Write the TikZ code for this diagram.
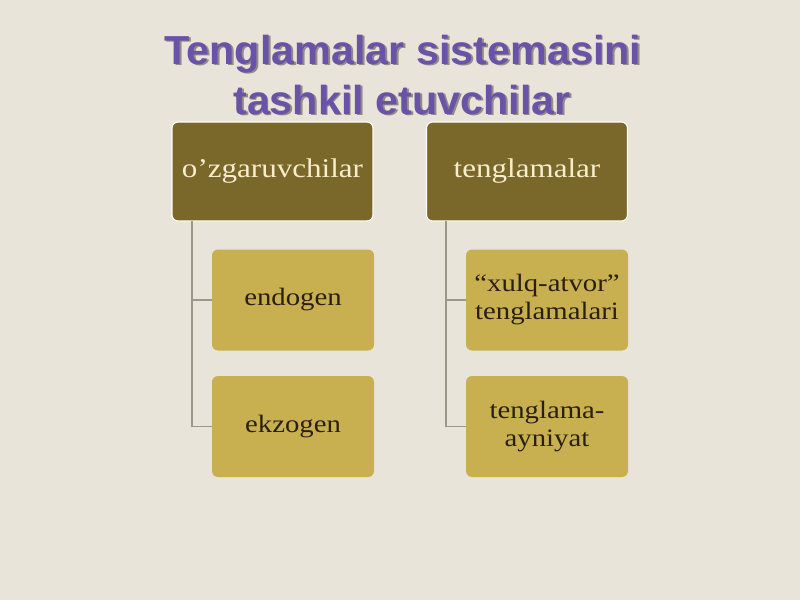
\documentclass[tikz,border=0pt]{standalone}
\usepackage{fontspec}
\setmainfont{Liberation Serif}
\newfontfamily\titlefont[FakeStretch=1.02]{Liberation Sans}
\newfontfamily\boxfont[FakeStretch=1.15]{Liberation Serif}
\definecolor{bgcol}{HTML}{E9E4D9}
\definecolor{titlecol}{HTML}{6853A8}
\definecolor{shadowcol}{HTML}{958A84}
\definecolor{headcol}{HTML}{7A682A}
\definecolor{childcol}{HTML}{C8B050}
\definecolor{headtext}{HTML}{F6EDCC}
\definecolor{childtext}{HTML}{2A2010}
\definecolor{linecol}{HTML}{9C9888}
\newcommand{\shadowedtitle}[1]{\rlap{\kern1.8pt\raisebox{-1.8pt}{\textcolor{shadowcol}{#1}}}#1}
\begin{document}
\begin{tikzpicture}[x=1pt,y=-1pt,
  titletext/.style={font=\titlefont\bfseries\fontsize{40.5}{40}\selectfont, text=titlecol, anchor=base, inner sep=0pt},
  headbox/.style={draw=white, line width=1.2pt, fill=headcol, rounded corners=6pt, minimum width=201pt, minimum height=99pt, text=headtext, font=\boxfont\fontsize{27}{30}\selectfont, align=center, inner sep=0pt},
  childbox/.style={fill=childcol, rounded corners=6pt, minimum width=162pt, minimum height=101pt, text=childtext, font=\boxfont\fontsize{25}{28}\selectfont, align=center, inner sep=0pt},
  conn/.style={draw=linecol, line width=1.3pt}
]
\fill[bgcol] (0,0) rectangle (800,600);
\useasboundingbox (0,0) rectangle (800,600);

% title
\node[titletext] (t1) at (403,64) {\shadowedtitle{Tenglamalar sistemasini}};
\node[titletext] (t2) at (402,114) {\shadowedtitle{tashkil etuvchilar}};

% boxes
\node[headbox] (h1) at (272.5,171.5) {o’zgaruvchilar};
\node[headbox] (h2) at (527,171.5) {tenglamalar};
\node[childbox] (c1) at (293,300) {endogen};
\node[childbox] (c2) at (293,426.5) {ekzogen};
\node[childbox] (c3) at (547,300) {“xulq-atvor”\\tenglamalari};
\node[childbox] (c4) at (547,426.5) {tenglama-\\ayniyat};

% connectors
\coordinate (l1) at (192,221);
\coordinate (l2) at (446,221);
\draw[conn] (l1) |- (c1.west);
\draw[conn] (l1) |- (c2.west);
\draw[conn] (l2) |- (c3.west);
\draw[conn] (l2) |- (c4.west);
\end{tikzpicture}
\end{document}
